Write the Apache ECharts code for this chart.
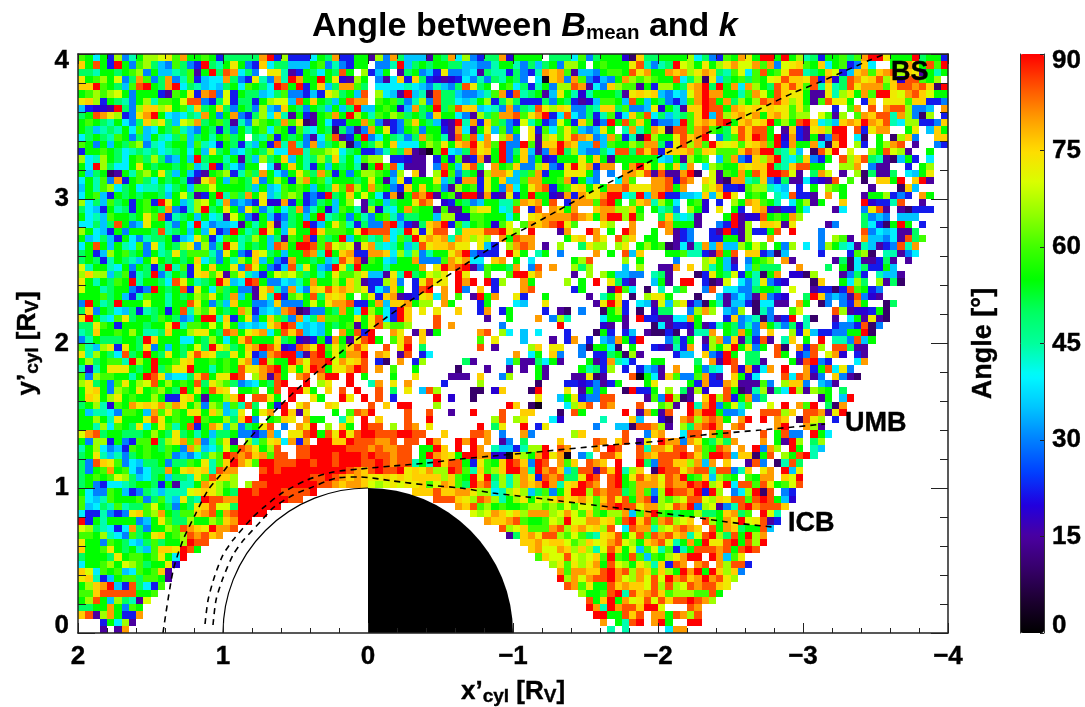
<!DOCTYPE html>
<html><head><meta charset="utf-8">
<style>html,body{margin:0;padding:0;background:#fff}#c{width:1085px;height:707px}</style>
<script src="https://cdn.jsdelivr.net/npm/echarts@6/dist/echarts.min.js"></script></head>
<body><div id="c"></div>
<script>
// one letter per cell: angle in degrees read from the colour of the cell, "." = no data
const angleLevels = {k:3,u:10,p:15,i:19,b:22,a:30,d:35,c:39,t:44,s:50,g:55,h:60,l:66,m:70,y:73,f:76,o:80,n:85,r:90};
// rows run from y'=4 down to y'=0; columns from x'=2 to x'=-4; ten cells per group, "_" = ten empty cells
const angleRows = [
"hgcgblatgl lmyhogghgb sssssorblb bbcgsobbgg plaosdddpg soclabssoi gggg.sssch asgggiufss gggglcsabh goygrrgrgl tsbgghshor rygggrsggb",
"fgngbrgahl sdahsabrst gygabfcssd ddghatabgg .aatrdsgsg gssddaatgg tasdsgallg .ghgggynta tsrmlgygly ommohoamyf hgfcghbafc ..gloygnhr",
"sstggsghla gddtshpgrs nocsa.yytp bgscgsng.l bdg.psgadb yaadcpsttb sabtofohpd daghhgnyog gofolyofst hmchnghynn tsgfmbdfoh fonlfypgtg",
"yghlgmasoh asoathbdcc osabytaotr oggrgyiplg .apcfbfsbi pibcatastg sa.ckfoaoh abdagolhlh ggncsluyds ghshgmynff ynboisnoyf nlfinnhgl.",
"ffrhgsdhnr gsorcstdcd sgchgscrng rbgfdsoohs .cccctcdat dasnysg.gh csbtgallno pcaflhhpgb llgsforsrg ocolgsnfnf hntytsnyoo ohfnnonfur",
"ghlhlmgagg gbphgybona mbgssdcsha abdbylsgdn .lcdprdtun ssdaadthob ntsgpdygti tgggspyfyf dacdmoroog gthomgnfyy gppytlygoh rrymonfmgg",
"yflbgstagl thhgmnnabs mbssbglmmd ngfgsdgnoo .hghsatlan sscdtglbsl sbbbsagsbp idhhgdngdg sabdhorngo slglnonfly gphnyyg.bf .yyyhffbba",
"dbiiprsalf flyghtfsgf sagsaldafg sagsdgdsrd dghgidosgr shnffdctao astnylfyaa stffshaady igtpffrnng ofyfyfyyhy h...b.ho.n .onnlaad.o",
"sgnoylbayo rgcdcstoga goabslcftp gbpghogrlg thglhsgsaf ggcaplshoo nhyorbcnca sbthbcfhnc sdtshfrdnl foyogfoyhl l.mhpl.hof nntolaul.b",
"ghgstgcasf lysdmlosgh sptalhgsoh yupgcbbggo hapbahfgsd iprtobfhsa bmtgbamgbf hiargnhfgb aadrhfofnr gfoyfrglgn rfctdfofro fntcllbbaf",
"gsdtstgchd cgshtdagsb sagtghchgb htcgsusapa ogybaghagg bpocpgydha g.ybhchyhd adyg.totgo yunnhonhgs ynfnng.pfb pyflrr.nby oo..gy.dfg",
"csgsthgasd gtcshdsgtg hsg.sthbgs gapchnpbgr acgstasohg tpnhnco.lo a.yplyhyno fadohbturl ggynfor.as hnfrngriob pgpanr.cu. g.ulfa..ff",
"hgagdgshla tcsggdhtcb gsbtdgbntn taodsgluag slgfcccglh ygforyohra arhpffrofd dndhgglhoo sbynlohrym yhyfohrbog gocufr.lb. glon.p..ab",
"bgghgsctst sctsgcgdys gdcsgslccn nthhlmcsgb bathsopukh rcdsnyfgra sfdpaorsld aascnnsnfn bfffohfyhh hfnorrstld .unyr.m..l gnmlp..g..",
"lctlgscghs lsadgdrsgg tgpsdlsgfd gtslsftgch ll.bbipp.b gbhpbopgra gfagibgggy gfgpgggggg cdgplgh.dh oabflortcs fabg.nlfns tpudgb.c..",
"gcrlsccgyg sggsghdtrb scagg.cpgf gtbgdgsgtu grhncppp.a ngdfns.ogh faalfabyry oboo.goryg ygfto.clhg gfyffrstfn ngg..llo.a pp..b.gl..",
"gdsgupgthl gysdgdbpgh lbthsogcag yhsohbgagl lhgal.fp.l rhasgplooy dshobggyyy ga.a.ooynp npporu.mph gognfrrnmp .som.p.lus pps.cdgy..",
"cgthaobghs cgsgsbpyog dhgsfaglgb loghtgggsg ygpdybgggy dsboobygfd dhoogghobg da..coh..o onino.fmpu ootsfabspp cbipn.h.u. ffgr.frp..",
"dgthlcsgct tscsgdhhmg gggsdgdchg hgdgsfhnlg ohgabfgfgh aplghbygao cgyonbghyf gygoonyyyo ongo..lyob bihlltcd.b .g.lhg...p ...ufd....",
"cghdbgsgsg gsdgmspbgr thsogydthl hbabrsgfgm gcbougnorp ghprrpoipy bgrggipobo yyorrctrdo rbbddcfdyr y.ghg.tcnb bp.o.g..pg glbab.og..",
"lcsdhsgbgh brygdtlmgt oadabyiiob gbasgdgl.p sgdsggyno. ibgsadggtt hofogn.boo ohnrg.hfot lgc.ghi.b. lgofhgt.cg lpg..f..ri bbtn..p...",
"scdbgtsbgh gsoabtlrsg ygayhatgcs oatgidhgtp litcgohggp hppglyygct n.bn.ofgo. .foollfg.g tsa.lgi.y. gb.foipbbg c...pc..ay np.pubbb..",
"gctdhggsgy hnbtsgdgct pmgaigdbas gdgrtsgagt aghtassggd lliihhgggc g.yfoooono fgorrlrh.. sftctp...g rpiinghgol ........sa da.ddd....",
"ccsdsngady ggtagcrcad dcpgtgfpds grbdgyhtbs aanrdbpsfo rbhtghgihm .hofonryh. ..yl..o... nogggp..ab rpl.ffypy. ...pa...sc bugrg.b...",
"lgcdbgaggg sntsgdgdyb argtsrygdy ggrfhhhgyr nnnctrybyn n.sfffnnry l.r...po.. ro.g.ro..g .opba..bpr bplbbgn.r. ..a.....na cdcpps....",
"gdcsdbgcat ssgbdcyhbc hgtslgdsph gnbhsgrdgh tsochsryof otoflyl.og noo....gyf .oy.nlf.gg ..pba..bbg gpl..o.... ..a.lhp.od dacpnsh...",
"cgngdgtcha ytgslyalas rytgsgdnog rrnhnmlmpy otctgdtnyf foyy.ydb.l ono.p.l..s yll.ly.glg hupcptodod dlgmh.gal. c.algtcptd pbanto....",
"sgbdlghsga gtsyshhhta ygabfmsgdg gnotrgfobb oofcltlatg gyorabbb.r yg.tg.a... .o.g.ndf.. .gghttbpng n.ffbaud.. ..b...bhlu .ttpac....",
"sgsbtgstdg ygsgsgfcsa gtlgfdgabo ggsgdtnfnp hgcdggoaaa hoyocc.fo. g.c.....gl n....l.g.. ..a...lygd p.aghl.op. ....psucpp bsp.p.....",
"mtggtcgags bsrthbygfg gyanygabdn tygdarysrg ggtggggo.y ronrpahggs o.an.o..ls l....d.l.. ppo.f.ltgd b.dhsss..o ...s.gucsb bgd.......",
"lflldshbts ratgsbyfhy phytdbgmlm hsgtgyhhly ddpytrsgml y.ry..h..h rryo....p. l.lgddaa.t sp...ubygs mbgtugo.ii ul...pasb. tddp......",
"ygtgshgrtg gscnygtsgr fdcrngaacd tgogglgflp bblfa.byny y.ror.rbl. .og....l.g .r.ysbp..d gp.rr.bupm .catyabi.. .uf..gcls. lpsu......",
"mggtsggaba rgsgnbygch sgaapyotao cafynfofly bcafg.bnr. o.ra.f.b.. .on.....bg ...prhc.u. t.sh..an.c caasggs.m. .pbbubnhgb a.........",
"ggghsgdbth ggtgsglhyg sodgpytrbh lgnsfyfg.h ybfopibyfc o.h.prgo.. yb..g..... p.tgy.u.ly yg...u..dp acapoabi.. srfadapnai p.........",
"argtsrgggm ggtggnygas dfggaadfaa agmgyoonbb godffogll. og...bg... cd..y..... .pyrfb.cdp mdlyiaugtp ddbuccpp.o g.ua.abog. .us.......",
"sfagscdsbt sgbgntlhyg sgolbdcdon upaagsogcr lgcbrf.y.y ..f..bo.bg ....b.pu.a ..uglb.u.i ss..alol.d al.uta..hm ....nlpiib gu........",
"yrgtchysgg shgsadgrrt fbgyagfhsa ocsohhggyg yncbrf...n ......p..g ...o.alt.. ..cggp.rbb ppccog...b fadtuapbr. tu..p.cgpy pu........",
"ssyhgbgggs ggyrthhgmg ygdcdcyorn cdcdgsghpg ynlhhl...n .o......a. ......r... ..ip.p...u cpbbigpbtg sataogtasi t...baabnu a.........",
"tsfgghglgt tsfgglyygs nogmfocgnf ndcdg.ognb r..oy.pfpg .....on.lc .d.c...b.. .ugb.bd.pu ubu.ptto.g soga.f..lb ydbbaaggru",
"atgsssggsr fgggccgslg cgfngggysg ipbgbogpyn rg.hyn.f.. .....h.y.. .d...p.bo. b.daogbr.. .asbg.ploa fpsbnp.tf. g.r.ttandg",
"htdlybygsy agdgsgmsry lsgfornfib noyrhyhfnf ..n.yr.s.. .....n.p.. ..lf.yy..a uggcu.g..b iptbo.blgm rgyag.nu.o bnl.nnspp.",
"ytlgscnsgr gsygsynfys sygybaonrr apnrgygoor .of.pn.bc. _ o.cg.fa..a .bbsgulp.. ..bdd.fabr g.ss..ng.b an.moi.bp.",
"glsghhtrlg rgghyfgghg hgyoarlggr omnnrmoyfn .bu.o.bl.. ...sp....d hppscgp... gpbotcb..g g....s.opr n.ssp...gp nrab...co.",
"titgyyygsg rshyyrggtg hgnyyonrgy gyrngyyorn .o.h..g... ..u...p..p .p.gp....g tsbl.b.bda p.o..gatc. nioico.r.. obgncya...",
"halhhggtgr nydccsfngy yrn.lopng. on.orr.r.g ...g..y... .ppp.f..al ...gp...pp yup...nkgc pfhaahobp. fgic...ncn opa.fapu..",
"lysgahyglm nglghgnsyl hsadcgsnr. .r.ly..r.. to.y.o.... b....l.... ...u...bbi bapbg...gy ....gbobbo ypppha.lff a.dap.....",
"gyfgalhgyg hlgsrgygnf y.ggh.gn.r ryg.f.n.r. .n.s.y.dnl ....uu.if. ..ur...y.p gag..urbbg .l.spli..n guptlpscrl plhg.s....",
"gfyglyghgg lgbbyfgpgg lfr.nnyg.r ..yg..ry.r .n.b.....r .i..u..... ...y..dgyb aann....ph arlup.frln bgoas..... ..pg.dr...",
"sgltihgoyf yoloyglalh dhtns.gbr. yo..fy.... n.f.rr...l .........r f.uk...clf n.no...n.. hlp.rtorag mth..m.r.o hr.suo....",
"gdttcahhgd ohyhgyygfl dty.gyo.rf py...g.hno r....n..n. .p..r...n. .ff...u.ng .....r.pog pn..rorrga ad..nnnlf. nnopyr....",
"gglgtygggy nyghggrhgg lsfra.ghfy .ogg..tm.r .f...n..r. .......ln. ly...ci... ..t...fd.. iu.onlonog .or.r.of.u nyl.b.....",
"ggtlchgsyc gyhtgnbgoy dlasgyn.a. oyr.l.fg.r nn.l.no.y. .....r.sy. .r.by..... .a..ddunno lp.lsonro. on....or.. olp.......",
"monsggsssg lgsysgtgds sgaabaod.y ynrgnyrynr rnnnrrnn.. f...nno.a. .oa.....lf .....n..af o..cnn.ogn ....n.gnaa .rgc......",
"gallbgabhh rslyohoath yp.lthyfco bo.rrffrnn noon.nn.ro ..ror.o.pa .s....f... .no.fn.py. rooaoygsls o...o.gprl .sl",
"tglcadbhgh gshgaoldcs mgnoygln.. nnrrrrrnnn onoonn.ggr f.r.ro.tdd btllr.no.. .o.rn..nto oynn.ohgno .o.raol.rg .td",
"sgytdtasgh gghadacslh rnonfohnn. nnrrrnrrrn rnnonn.gro fygrrooiik flgoryok.a t.nnf..nof nnnrnfhrrn dffugn.lgn rt",
"sanfyhacds sgasshgyth froyhrrnnn rrnrrnrrrn nrnonntgtr fnngbyhgfr nfarn.ohf. nof.r..rsa nnfflodo.f ..pna.utns",
"saghoghcac ssogyfyftn oo...nrnrr rrrrrrrnof nrnnryfyol lrnhtfhlfr rotronfdsn npnfrtlf.u rnnyonntnn atf.yo.rdy",
"sghghmlsdc sgdsstyhnf fl...rrrrr rrnnrnofof yyfyfyffff lfhgryrslt loybnonssy rn.nrgynfo mnorghfdlh g.hgoo.fmr",
"sgabcctsgg sbgpttgoyl hl.lnnrrrr rrrnnofoof mlmymyyfhm ofhsrontlt loforotyfr no.nrghooo ynoornrlyr cnnhnyghmn",
"gcaahgdbas tdtttmyfyl gsrrnrrrnn nnr....... ......fffn ffooyllctl yldshagyrr lnonnshoha lrnnorbrl. aclrun.ab",
"hcdthgggha shtdystrnn oorrrrrrrn n......... .........n nnfylnoltg lygmlyoyfo yhfnyngonb lhlmnnmlfy nnhnrngdi",
"hdcsthtssh mgsagsyfnm msrrrrrr.. _ _ ..ofnhlghg ghllhlhmhm mhonrnnyoo lmnoralmpa tnronnnf",
"cbbtabayfh logshhfong onrrrr.... _ _ ....mlmofm flooolmomh fhgllodhor hgsgglssgf osh.rmt",
"rbgtggggad gyhsslgglh forr...... _ _ ......offo nhgghmlrmm ooyfhnrfnh onlmf.nlgo yrmynpb",
"mlstcbcosa gglhnofyro on........ _ _ ........nl mfhhhonlfo yfln.cnoot lmonof.ngo fsggnd",
"hhgltcahsg yfghlnonfo _ _ _ .........p sfoynnlhmh styfngmnhn onfotmnrls ngrlo",
"yggahgscds hsgglrnn.. _ _ _ _ .ffoyffmhl fmyonmlgfo nmtgogryyn rgnlr",
"fgghygsgtd hffyrng... _ _ _ _ ..fommoflf ltmnfgmdhm thbtgnnnon gnrn",
"sgggsyghhg hygcr..... _ _ _ _ ...hfmmnml mfhrhgnhdh glyorr.rod hy",
"cgghlgmlhs ggyi...... _ _ _ _ .....lyhyl yognmlgylt fbno.on.ol nnb",
"fmchghdchg hfp....... _ _ _ _ ......ohoo ffnronlofh flgrorgrfl fa",
"yftbdghhsh hgp....... _ _ _ _ ......rlom onnromlomn mronforony l",
"glfordbnsc bh........ _ _ _ _ .......noh yggnfoffmn lnlmnonnfy",
"hhfnnnnngg h......... _ _ _ _ .........l gghnrtnfon fhlllhhng",
"glngdlstpm _ _ _ _ _ _ ngfrgomynm nfnnrnol",
"ssggogahg. _ _ _ _ _ _ rotronnfrr m...no",
"fnplogbbo. _ _ _ _ _ _ .rrggnfn.o ognoln",
"...bgclp.. _ _ _ _ _ _ ..o.gtnr.o rg..rr",
"...p.po... _ _ _ _ _ _ ...t.t.... .coo"
];
const xLeft = 2, yTop = 4, cellSize = 0.05;
const bowShock = [[1.414,0],[1.345,.428],[1.276,.642],[1.193,.815],[1.103,.988],[1,1.112],[.883,1.264],[.828,1.333],[.655,1.52],[.517,1.658],[.352,1.803],[.11,2.003],[.034,2.059],[-.131,2.183],[-.29,2.294],[-.462,2.411],[-.621,2.515],[-.793,2.625],[-.959,2.729],[-1.131,2.819],[-1.303,2.915],[-1.552,3.054],[-1.724,3.143],[-1.897,3.233],[-2.062,3.316],[-2.241,3.406],[-2.414,3.489],[-2.586,3.565],[-2.759,3.648],[-2.931,3.731],[-3.117,3.807],[-3.29,3.883],[-3.462,3.959],[-3.566,4]];
const umb = [[1.124,.062],[1.103,.228],[1.055,.401],[1,.539],[.931,.642],[.8,.794],[.724,.864],[.593,.967],[.421,1.057],[.241,1.112],[.055,1.133],[-.172,1.154],[-.407,1.174],[-.634,1.202],[-.862,1.223],[-1.097,1.244],[-1.669,1.299],[-2.014,1.326],[-2.241,1.361],[-2.476,1.382],[-2.703,1.402],[-2.931,1.423],[-3.152,1.444]];
const icb = [[1.069,.055],[1.048,.228],[1,.38],[.931,.539],[.869,.629],[.731,.781],[.655,.864],[.517,.953],[.4,1.002],[.214,1.071],[.055,1.078],[-.172,1.05],[-.407,1.022],[-.634,1.002],[-.862,.967],[-1.097,.94],[-1.324,.912],[-1.552,.884],[-1.897,.843],[-2.014,.829],[-2.241,.801],[-2.476,.767],[-2.793,.732]];
const boundaryLabels = [[-3.607,3.87,'BS'],[-3.29,1.45,'UMB'],[-2.897,.753,'ICB']];
const planet = [[0,0,1]];
const colorStops = ['#000000','#1c0030','#36006a','#4a00a0','#2000e0','#0040ff','#0080ff','#00c4ff','#00faff','#00ff9c','#00ff60','#00ff00','#40ff00','#90ff00','#d8ff00','#ffdc00','#ff9c00','#ff5000','#ff0000'];

const cells = [];
angleRows.forEach((row, r) => {
  let cols = row.split(' ').map(g => g === '_' ? '..........' : g.padEnd(10,'.').slice(0,10)).join('');
  for (let c = 0; c < cols.length; c++) {
    const v = angleLevels[cols[c]];
    if (v !== undefined) cells.push([xLeft - cellSize*(c+.5), yTop - cellSize*(r+.5), v]);
  }
});

const FF = '"Liberation Sans", Arial, sans-serif';
const heavy = {textBorderColor:'#000',textBorderWidth:0.4};
const lab = {fontFamily:FF,fontWeight:'bold',fontSize:26,color:'#000',...heavy};
const tickLab = {...lab,lineHeight:14};
const axisLine = {show:true,onZero:false,lineStyle:{color:'#222',width:1.5}};
const rich = {
  sub:{fontFamily:FF,fontWeight:'bold',fontSize:19,color:'#000',padding:[10,0,0,0],...heavy},
  n:{fontFamily:FF,fontWeight:'bold',fontSize:26,color:'#000',...heavy}
};
const fmtX = v => v < 0 ? '\u2212' + Math.abs(v) : String(v);

const option = {
  animation:false, backgroundColor:'#fff',
  title:{left:312,top:10,padding:0,
    text:'{b|Angle between }{i|B}{s|mean}{b| and }{i|k}',
    textStyle:{rich:{
      b:{fontFamily:FF,fontWeight:'bold',fontSize:34,color:'#000'},
      i:{fontFamily:FF,fontWeight:'bold',fontStyle:'italic',fontSize:34,color:'#000'},
      s:{fontFamily:FF,fontWeight:'bold',fontSize:20.5,color:'#000',padding:[13,0,0,0]}
    }}},
  grid:[{left:78,right:137,top:54,bottom:74,outerBoundsMode:'none'},{left:1020,right:41,top:54,bottom:74,outerBoundsMode:'none'}],
  xAxis:[
    {type:'value',gridIndex:0,min:-4,max:2,interval:1,inverse:true,position:'bottom',z:10,
     axisLine,axisTick:{inside:true,length:10,lineStyle:{color:'#222',width:1}},
     minorTick:{show:true,splitNumber:5,length:5,lineStyle:{color:'#222',width:1}},
     splitLine:{show:false},minorSplitLine:{show:false},
     axisLabel:{...lab,margin:11,formatter:fmtX},
     name:"{n|x\u2019}{sub|cyl}{n| [R}{sub|V}{n|]}",nameLocation:'middle',nameGap:44,nameTextStyle:{rich}},
    {type:'value',gridIndex:0,min:-4,max:2,interval:1,inverse:true,position:'top',z:10,
     axisLine,axisTick:{inside:true,length:10,lineStyle:{color:'#222',width:1}},
     minorTick:{show:true,splitNumber:5,length:5,lineStyle:{color:'#222',width:1}},
     splitLine:{show:false},axisLabel:{show:false}},
    {type:'value',gridIndex:1,min:0,max:1,show:false}
  ],
  yAxis:[
    {type:'value',gridIndex:0,min:0,max:4,interval:1,position:'left',z:10,
     axisLine,axisTick:{inside:true,length:17,lineStyle:{color:'#222',width:1}},
     minorTick:{show:true,splitNumber:5,length:8,lineStyle:{color:'#222',width:1}},
     splitLine:{show:false},
     axisLabel:{...tickLab,margin:9,verticalAlignMinLabel:'bottom',verticalAlignMaxLabel:'top'},
     name:"{n|y\u2019}{sub|cyl}{n| [R}{sub|V}{n|]}",nameLocation:'middle',nameGap:36,nameRotate:90,nameTextStyle:{rich}},
    {type:'value',gridIndex:0,min:0,max:4,interval:1,position:'right',z:10,
     axisLine,axisTick:{inside:true,length:17,lineStyle:{color:'#222',width:1}},
     minorTick:{show:true,splitNumber:5,length:8,lineStyle:{color:'#222',width:1}},
     splitLine:{show:false},axisLabel:{show:false}},
    {type:'value',gridIndex:1,min:0,max:90,interval:15,position:'right',z:10,
     axisLine:{show:true,onZero:false,lineStyle:{color:'#333',width:1}},
     axisTick:{inside:true,length:4,lineStyle:{color:'#222'}},splitLine:{show:false},
     axisLabel:{...tickLab,margin:8,align:'left',verticalAlignMinLabel:'bottom',verticalAlignMaxLabel:'top'}},
    {type:'value',gridIndex:1,min:0,max:90,interval:90,position:'left',z:10,
     axisLine:{show:true,onZero:false,lineStyle:{color:'#333',width:1}},axisTick:{show:false},
     axisLabel:{show:false},splitLine:{show:false},
     name:'Angle [\u00b0]',nameLocation:'middle',nameGap:23,nameRotate:90,nameTextStyle:{...lab,fontSize:27}}
  ],
  visualMap:{type:'continuous',seriesIndex:0,dimension:2,min:0,max:90,show:true,calculable:false,
    hoverLink:false,realtime:false,left:1020,top:54,itemWidth:24,itemHeight:579,padding:0,text:null,
    textStyle:{fontSize:0},inRange:{color:colorStops}},
  series:[
    {type:'custom',xAxisIndex:0,yAxisIndex:0,data:cells,encode:{x:0,y:1},clip:true,progressive:0,silent:true,
     renderItem(params,api){
       const h=cellSize/2,x=api.value(0),y=api.value(1);
       const a=api.coord([x+h,y+h]),b=api.coord([x-h,y-h]);
       const rnd=v=>Math.round(v+0.1);
       const x0=rnd(Math.min(a[0],b[0])),x1=rnd(Math.max(a[0],b[0]));
       const y0=rnd(Math.min(a[1],b[1])),y1=rnd(Math.max(a[1],b[1]));
       return {type:'rect',shape:{x:x0,y:y0,width:x1-x0,height:y1-y0},style:{fill:api.visual('color')}};
     }},
    {type:'custom',xAxisIndex:0,yAxisIndex:0,data:planet,encode:{x:0,y:1},clip:true,silent:true,z:3,
     renderItem(params,api){
       const c=api.coord([api.value(0),api.value(1)]);
       const e=api.coord([api.value(0)-api.value(2),api.value(1)]);
       const r=Math.abs(e[0]-c[0]);
       return {type:'group',children:[
         {type:'sector',shape:{cx:c[0],cy:c[1],r0:0,r,startAngle:-Math.PI/2,endAngle:0,clockwise:true},style:{fill:'#000'}},
         {type:'arc',shape:{cx:c[0],cy:c[1],r,startAngle:-Math.PI,endAngle:-Math.PI/2,clockwise:true},style:{stroke:'#000',lineWidth:1.2,fill:null}}
       ]};
     }},
    ...[bowShock,umb,icb].map(d=>({type:'line',xAxisIndex:0,yAxisIndex:0,data:d,showSymbol:false,smooth:.25,silent:true,z:4,
      lineStyle:{color:'#000',width:1.6,type:[6,5]}})),
    {type:'scatter',xAxisIndex:0,yAxisIndex:0,data:boundaryLabels,symbolSize:0,silent:true,z:5,itemStyle:{opacity:1},
     label:{show:true,position:'right',distance:0,...lab,fontSize:27,formatter:p=>p.value[2]}}
  ]
};
echarts.init(document.getElementById('c'),null,{renderer:'canvas'}).setOption(option);
</script></body></html>
